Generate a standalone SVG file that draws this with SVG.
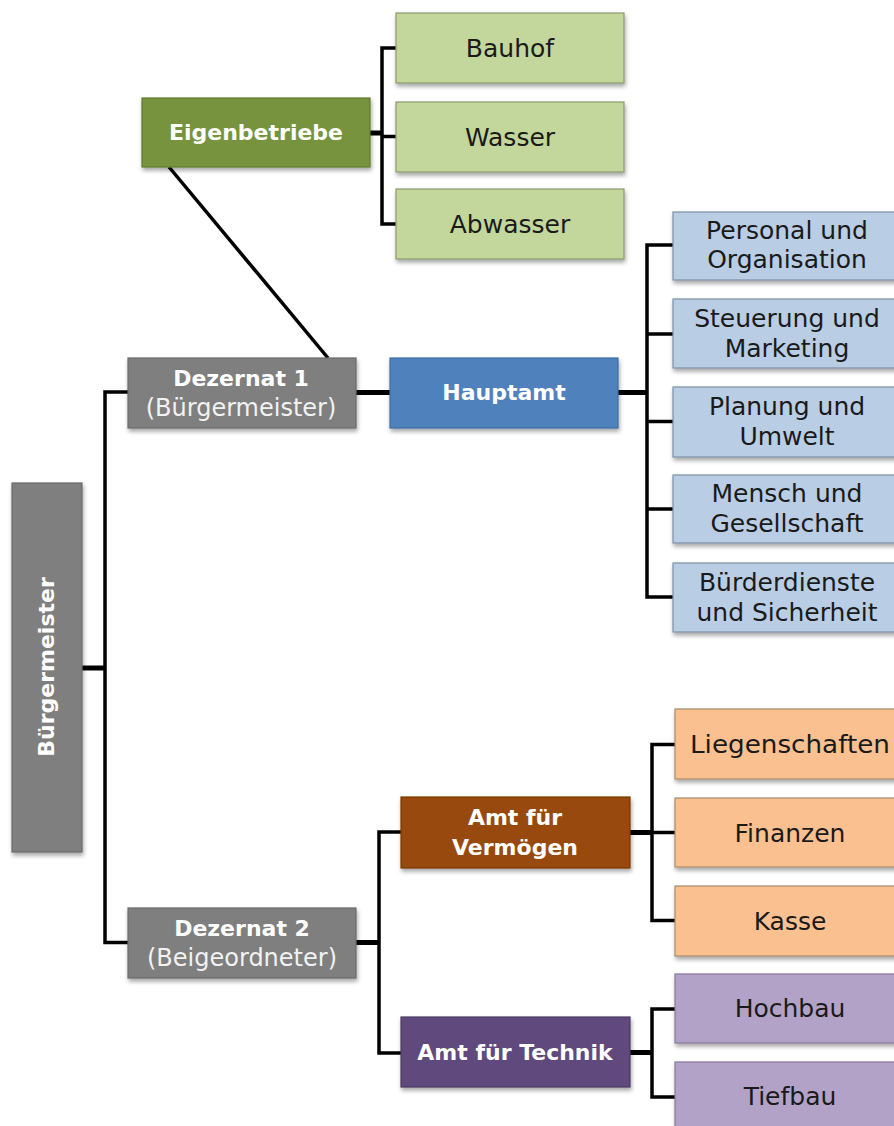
<svg xmlns="http://www.w3.org/2000/svg" width="894" height="1126" viewBox="0 0 894 1126">
<defs>
<filter id="sh" x="-10%" y="-10%" width="125%" height="140%">
<feDropShadow dx="1" dy="3" stdDeviation="2" flood-color="#000" flood-opacity="0.35"/>
</filter>
</defs>
<style>
.box{filter:url(#sh);stroke-width:1.2}
.lt{font-family:"DejaVu Sans","Noto Sans",sans-serif;font-size:25px;fill:#1a1a1a;text-anchor:middle}
.bd{font-family:"DejaVu Sans","Noto Sans",sans-serif;font-size:22px;font-weight:bold;fill:#fff;text-anchor:middle}
.sub{font-family:"DejaVu Sans","Noto Sans",sans-serif;font-size:24px;fill:#f2f2f2;text-anchor:middle}
.c{fill:none;stroke:#000;stroke-width:3.5;stroke-linejoin:miter}
.s{fill:none;stroke:#000;stroke-width:5}
.gray{fill:#7f7f7f;stroke:#6a6a6a}
.green{fill:#77933c;stroke:#5f7a2c}
.lgreen{fill:#c3d69b;stroke:#8a9a70}
.blue{fill:#4f81bd;stroke:#3f6da3}
.lblue{fill:#b9cde5;stroke:#7f8fa3}
.brown{fill:#984807;stroke:#7a3a05}
.lorange{fill:#fac090;stroke:#a88a70}
.purple{fill:#604a7b;stroke:#4b3a61}
.lpurple{fill:#b3a2c7;stroke:#85789a}
</style>
<g id="connectors">
<line class="c" x1="169" y1="167" x2="328" y2="358"/>
<line class="s" x1="370" y1="133" x2="382" y2="133"/>
<path class="c" d="M396,48 H382 V224 H396 M382,136.5 H396"/>
<line class="s" x1="82" y1="668" x2="105" y2="668"/>
<path class="c" d="M128,392 H105 V942.5 H128"/>
<line class="s" x1="356" y1="392.5" x2="390" y2="392.5"/>
<line class="s" x1="618" y1="392.5" x2="647" y2="392.5"/>
<path class="c" d="M673,245 H647 V597 H673 M647,334 H673 M647,421.5 H673 M647,509 H673"/>
<line class="s" x1="356" y1="942.5" x2="379" y2="942.5"/>
<path class="c" d="M401,832 H379 V1053 H401"/>
<line class="s" x1="630" y1="832.5" x2="652" y2="832.5"/>
<path class="c" d="M675,744.5 H652 V920.5 H675 M652,832.5 H675"/>
<line class="s" x1="630" y1="1052.5" x2="652" y2="1052.5"/>
<path class="c" d="M675,1009 H652 V1097 H675"/>
</g>
<g id="buergermeister">
<rect class="box gray" x="12" y="483" width="70" height="369"/>
<text class="bd" transform="translate(54,667) rotate(-90)">Bürgermeister</text>
</g>
<g id="eigenbetriebe">
<rect class="box green" x="142" y="98" width="228" height="69"/>
<text class="bd" x="256" y="140">Eigenbetriebe</text>
</g>
<g id="bauhof">
<rect class="box lgreen" x="396" y="13" width="228" height="70"/>
<text class="lt" x="510" y="57">Bauhof</text>
</g>
<g id="wasser">
<rect class="box lgreen" x="396" y="102" width="228" height="70"/>
<text class="lt" x="510" y="146">Wasser</text>
</g>
<g id="abwasser">
<rect class="box lgreen" x="396" y="189" width="228" height="70"/>
<text class="lt" x="510" y="233">Abwasser</text>
</g>
<g id="dezernat1">
<rect class="box gray" x="128" y="358" width="228" height="70"/>
<text class="bd" x="241" y="386">Dezernat 1</text>
<text class="sub" x="241" y="416">(Bürgermeister)</text>
</g>
<g id="hauptamt">
<rect class="box blue" x="390" y="358" width="228" height="70"/>
<text class="bd" x="504" y="400">Hauptamt</text>
</g>
<g id="personal">
<rect class="box lblue" x="673" y="212" width="232" height="68"/>
<text class="lt" x="787" y="239">Personal und</text>
<text class="lt" x="787" y="268">Organisation</text>
</g>
<g id="steuerung">
<rect class="box lblue" x="673" y="299" width="232" height="69"/>
<text class="lt" x="787" y="327">Steuerung und</text>
<text class="lt" x="787" y="357">Marketing</text>
</g>
<g id="planung">
<rect class="box lblue" x="673" y="387" width="232" height="70"/>
<text class="lt" x="787" y="415">Planung und</text>
<text class="lt" x="787" y="445">Umwelt</text>
</g>
<g id="mensch">
<rect class="box lblue" x="673" y="475" width="232" height="68"/>
<text class="lt" x="787" y="502">Mensch und</text>
<text class="lt" x="787" y="532">Gesellschaft</text>
</g>
<g id="buerderdienste">
<rect class="box lblue" x="673" y="563" width="232" height="69"/>
<text class="lt" x="787" y="591">Bürderdienste</text>
<text class="lt" x="787" y="621">und Sicherheit</text>
</g>
<g id="dezernat2">
<rect class="box gray" x="128" y="908" width="228" height="70"/>
<text class="bd" x="242" y="936">Dezernat 2</text>
<text class="sub" x="242" y="966">(Beigeordneter)</text>
</g>
<g id="vermoegen">
<rect class="box brown" x="401" y="797" width="229" height="71"/>
<text class="bd" x="515" y="825">Amt für</text>
<text class="bd" x="515" y="855">Vermögen</text>
</g>
<g id="technik">
<rect class="box purple" x="401" y="1017" width="229" height="70"/>
<text class="bd" x="515" y="1060">Amt für Technik</text>
</g>
<g id="liegenschaften">
<rect class="box lorange" x="675" y="709" width="230" height="70"/>
<text class="lt" x="790" y="753" textLength="200" lengthAdjust="spacingAndGlyphs">Liegenschaften</text>
</g>
<g id="finanzen">
<rect class="box lorange" x="675" y="798" width="230" height="69"/>
<text class="lt" x="790" y="842">Finanzen</text>
</g>
<g id="kasse">
<rect class="box lorange" x="675" y="886" width="230" height="70"/>
<text class="lt" x="790" y="930">Kasse</text>
</g>
<g id="hochbau">
<rect class="box lpurple" x="675" y="974" width="230" height="69"/>
<text class="lt" x="790" y="1017">Hochbau</text>
</g>
<g id="tiefbau">
<rect class="box lpurple" x="675" y="1062" width="230" height="70"/>
<text class="lt" x="790" y="1105">Tiefbau</text>
</g>
</svg>
